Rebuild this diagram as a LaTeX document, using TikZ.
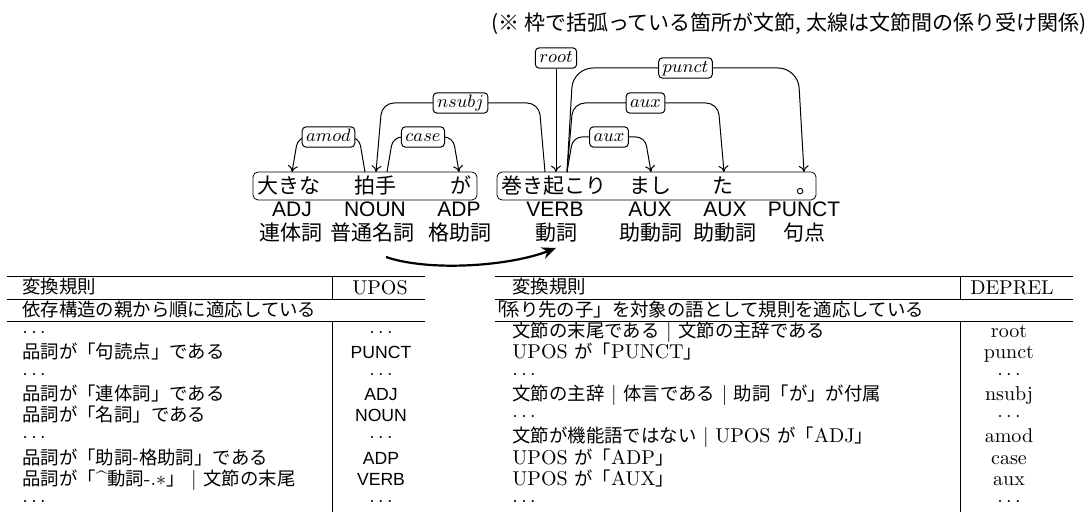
\documentclass[tikz,border=0pt]{standalone}
\usepackage{fontspec}
\newfontfamily\jp{Noto Sans CJK JP}
\newfontfamily\lsans{Liberation Sans}
\usetikzlibrary{arrows.meta,calc}
\newcommand{\tj}[1]{{\jp\fontsize{9.2}{11}\selectfont #1}}
\newcommand{\tsf}[1]{{\lsans\fontsize{8.8}{11}\selectfont #1}}
\begin{document}
\begin{tikzpicture}[x=0.5pt,y=-0.5pt,
  wbox/.style={draw, rounded corners=2.5pt, inner sep=0pt, minimum height=14pt},
  word/.style={font=\jp\fontsize{10.5}{12}\selectfont, anchor=base, inner sep=0pt},
  posl/.style={font=\lsans\fontsize{10.5}{12}\selectfont, anchor=base, inner sep=0pt},
  posj/.style={font=\jp\fontsize{10.5}{12}\selectfont, anchor=base, inner sep=0pt},
  dep/.style={-{To[length=3.2pt,width=5pt]}, line width=0.5pt},
  lbl/.style={draw, fill=white, rounded corners=2pt, inner xsep=2pt, inner ysep=1.3pt,
    text height=5.9pt, text depth=1.7pt, font=\fontsize{8.6}{10}\selectfont, line width=0.5pt},
  rul/.style={line width=0.5pt},
  cell/.style={anchor=base west, inner sep=0pt, font=\fontsize{10}{12}\selectfont},
  cellc/.style={anchor=base, inner sep=0pt, font=\fontsize{10}{12}\selectfont},
]
\useasboundingbox (0,0) rectangle (1089,512);

% annotation
\node[anchor=base east, inner sep=0pt, font=\jp\fontsize{10.5}{12}\selectfont] (note) at (1087,31)
  {(※ 枠で括弧っている箇所が文節, 太線は文節間の係り受け関係)};

% bunsetsu boxes
\node[wbox, minimum width=112pt] (b1) at (365,186) {};
\node[wbox, minimum width=159.5pt] (b2) at (656.5,186) {};

% words
\node[word] (w1) at (289,194) {大きな};
\node[word] (w2) at (375,194) {拍手};
\node[word] (w3) at (461,194) {が};
\node[word] (w4) at (554,194) {巻き起こり};
\node[word] (w5) at (650,194) {まし};
\node[word] (w6) at (723,194) {た};
\node[word] (w7) at (807,194) {。};

% POS
\node[posl] (p1) at (292,217) {ADJ};
\node[posl] (p2) at (375,217) {NOUN};
\node[posl] (p3) at (459,217) {ADP};
\node[posl] (p4) at (555,217) {VERB};
\node[posl] (p5) at (650,217) {AUX};
\node[posl] (p6) at (725,217) {AUX};
\node[posl] (p7) at (804,217) {PUNCT};
\node[posj] (j1) at (291,241) {連体詞};
\node[posj] (j2) at (372,241) {普通名詞};
\node[posj] (j3) at (460,241) {格助詞};
\node[posj] (j4) at (556,241) {動詞};
\node[posj] (j5) at (651,241) {助動詞};
\node[posj] (j6) at (725,241) {助動詞};
\node[posj] (j7) at (804,241) {句点};

% attachment points
\coordinate (t1) at (292,172);
\coordinate (t2) at (376,172);
\coordinate (t3) at (459,172);
\coordinate (t4) at (556,172);
\coordinate (t5) at (651,172);
\coordinate (t6) at (724,172);
\coordinate (t7) at (804,172);

% dependency arcs
\draw[dep, rounded corners=4.5pt] ($(t2)+(-11,0)$) -- ($(t2)+(-17,-35)$)
  -- node[lbl] (lamod) {$amod$} ($(t1)+(6,-35)$) -- (t1);
\draw[dep, rounded corners=4.5pt] ($(t2)+(11,0)$) -- ($(t2)+(17,-35)$)
  -- node[lbl] (lcase) {$case$} ($(t3)+(-6,-35)$) -- (t3);
\draw[dep, rounded corners=6pt] ($(t4)+(-11,0)$) -- ($(t4)+(-17,-69)$)
  -- node[lbl] (lnsubj) {$nsubj$} ($(t2)+(6,-69)$) -- (t2);
\draw[dep, rounded corners=4.5pt] ($(t4)+(11,0)$) -- ($(t4)+(17,-35)$)
  -- node[lbl] (laux1) {$aux$} ($(t5)+(-6,-35)$) -- (t5);
\draw[dep, rounded corners=6pt] ($(t4)+(11,0)$) -- ($(t4)+(17,-69)$)
  -- node[lbl] (laux2) {$aux$} ($(t6)+(-6,-69)$) -- (t6);
\draw[dep, rounded corners=10pt] ($(t4)+(11,0)$) -- ($(t4)+(17,-104)$)
  -- node[lbl] (lpunct) {$punct$} ($(t7)+(-6,-104)$) -- (t7);
\node[lbl] (root) at (556,58) {$root$};
\draw[dep] (root) -- (t4);

% thick bunsetsu arrow
\coordinate (ca) at (386,257);
\coordinate (cb) at (556,248);
\draw[line width=1.1pt, -{Stealth[length=7pt,width=6pt]}] (ca) .. controls ($(ca)+(44,15)$) and ($(cb)+(-46,18)$) .. (cb);

% ---------- left table ----------
\draw[rul] (7,277) -- (425,277);
\draw[rul] (7,300) -- (425,300);
\draw[rul] (7,322) -- (425,322);
\draw[rul] (332,277) -- (332,300);
\draw[rul] (332,322) -- (332,512);
\node[cell] (lh1) at (22,294) {\tj{変換規則}};
\node[cellc] (lh2) at (380,295) {UPOS};
\node[cell] (ls) at (22,317) {\tj{依存構造の親から順に適応している}};

\node[cell] (la0) at (22,338) {$\cdots$};
\node[cellc] (lb0) at (381,338) {$\cdots$};
\node[cell] (la1) at (22,359) {\tj{品詞が「句読点」である}};
\node[cellc] (lb1) at (381,359) {\tsf{PUNCT}};
\node[cell] (la2) at (22,380) {$\cdots$};
\node[cellc] (lb2) at (381,380) {$\cdots$};
\node[cell] (la3) at (22,401) {\tj{品詞が「連体詞」である}};
\node[cellc] (lb3) at (381,401) {\tsf{ADJ}};
\node[cell] (la4) at (22,422) {\tj{品詞が「名詞」である}};
\node[cellc] (lb4) at (381,422) {\tsf{NOUN}};
\node[cell] (la5) at (22,443) {$\cdots$};
\node[cellc] (lb5) at (381,443) {$\cdots$};
\node[cell] (la6) at (22,465) {\tj{品詞が「助詞-格助詞」である}};
\node[cellc] (lb6) at (381,465) {\tsf{ADP}};
\node[cell] (la7) at (22,486) {\tj{品詞が「}\^{}\tj{動詞}-.$*$\tj{」} $|$ \tj{文節の末尾}};
\node[cellc] (lb7) at (381,486) {\tsf{VERB}};
\node[cell] (la8) at (22,507) {$\cdots$};
\node[cellc] (lb8) at (381,507) {$\cdots$};

% ---------- right table ----------
\draw[rul] (495,277) -- (1073,277);
\draw[rul] (495,300) -- (1073,300);
\draw[rul] (495,322) -- (1073,322);
\draw[rul] (960,277) -- (960,300);
\draw[rul] (960,322) -- (960,512);
\node[cell] (rh1) at (512,294) {\tj{変換規則}};
\node[cellc] (rh2) at (1012,295) {DEPREL};
\node[cell] (rs) at (487,317) {\tj{「\kern-.22em 係り先の子」を対象の語として規則を適応している}};

\node[cell] (ra0) at (512,338) {\tj{文節の末尾である} $|$ \tj{文節の主辞である}};
\node[cellc] (rb0) at (1009,338) {root};
\node[cell] (ra1) at (512,359) {UPOS \tj{が「}PUNCT\tj{」}};
\node[cellc] (rb1) at (1009,359) {punct};
\node[cell] (ra2) at (512,380) {$\cdots$};
\node[cellc] (rb2) at (1009,380) {$\cdots$};
\node[cell] (ra3) at (512,401) {\tj{文節の主辞} $|$ \tj{体言である} $|$ \tj{助詞「が」が付属}};
\node[cellc] (rb3) at (1009,401) {nsubj};
\node[cell] (ra4) at (512,422) {$\cdots$};
\node[cellc] (rb4) at (1009,422) {$\cdots$};
\node[cell] (ra5) at (512,443) {\tj{文節が機能語ではない} $|$ UPOS \tj{が「}ADJ\tj{」}};
\node[cellc] (rb5) at (1009,443) {amod};
\node[cell] (ra6) at (512,465) {UPOS \tj{が「}ADP\tj{」}};
\node[cellc] (rb6) at (1009,465) {case};
\node[cell] (ra7) at (512,486) {UPOS \tj{が「}AUX\tj{」}};
\node[cellc] (rb7) at (1009,486) {aux};
\node[cell] (ra8) at (512,507) {$\cdots$};
\node[cellc] (rb8) at (1009,507) {$\cdots$};
\end{tikzpicture}
\end{document}
